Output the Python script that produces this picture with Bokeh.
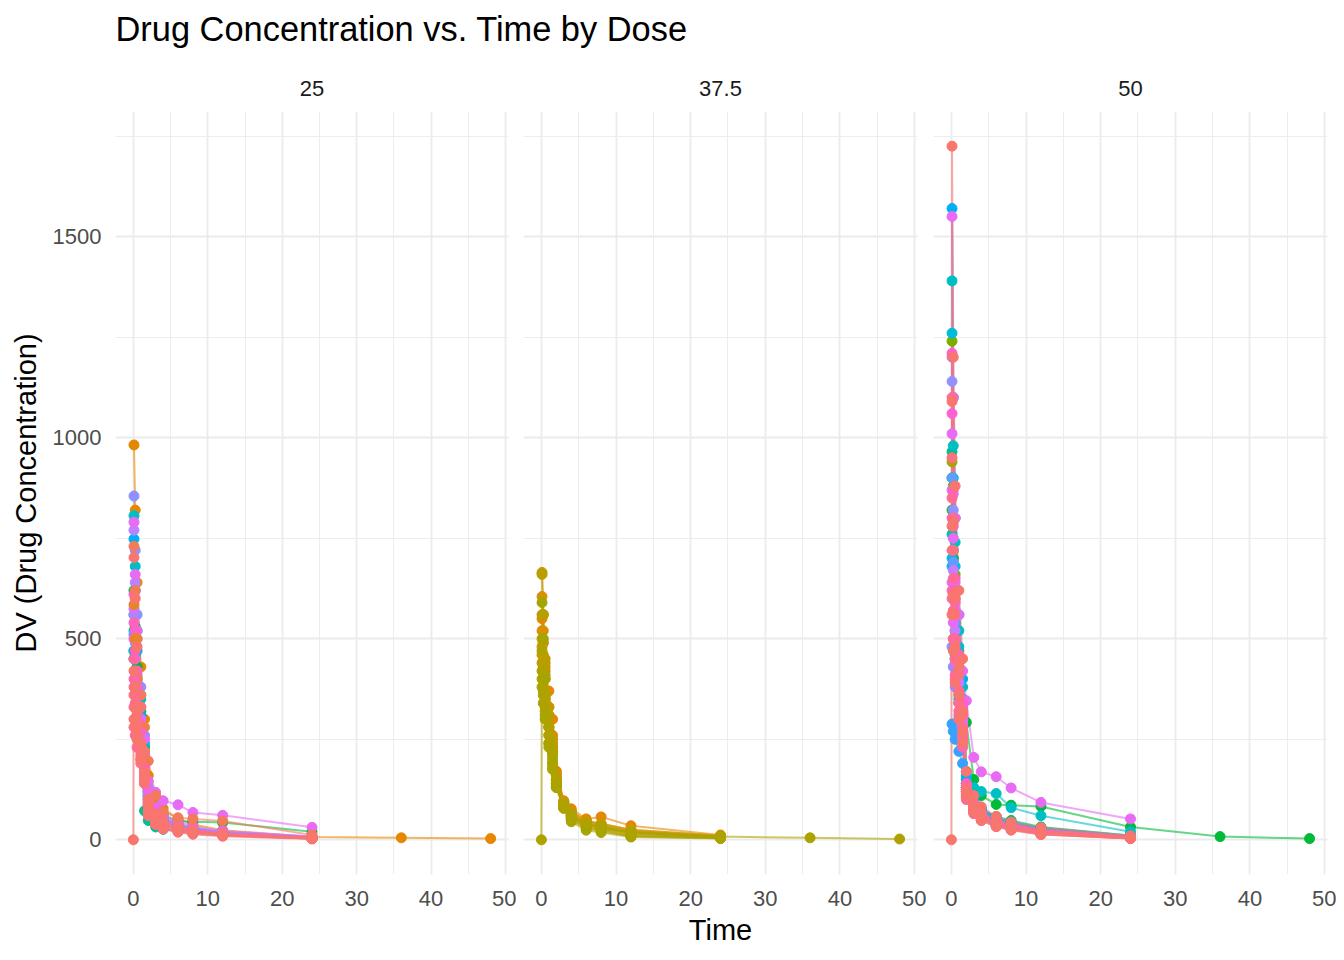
from bokeh.plotting import figure
from bokeh.layouts import column, row
from bokeh.models import ColumnDataSource, SingleIntervalTicker, Range1d, Label
from bokeh.embed import file_html
from bokeh.resources import INLINE

FONT = "Liberation Sans"
N = None

# sampling times (h); None in a profile = no sample at that time
TIMES = [0, 0.083, 0.25, 0.5, 1, 1.5, 2, 3, 4, 6, 8, 12, 24, 36, 48]

DOSE_LABELS = ["25", "37.5", "50"]

COLORS_25 = ["#E58700", "#39B600", "#00BA38", "#00BD5C", "#00C08B", "#00C1A3",
             "#00BFC4", "#00B8E7", "#00B0F6", "#619CFF", "#8F91FF", "#A58AFF",
             "#B983FF", "#E76BF3", "#D575FE", "#F066EA", "#FD61D1", "#F37B59",
             "#E88526", "#FF62BC", "#FF65AE", "#FF67A4", "#FF6C91", "#FF6C91",
             "#FC717F", "#FB727C", "#F8766D", "#F8766D", "#F8766D"]
CONC_25 = [
    [N, 982, 820, 640, 430, 300, 160, 105, 78, 52, 38, 24, 7, 5, 3],
    [N, 470, 420, 360, 290, 210, 110, 70, 50, 36, 28, 18, 6, N, N],
    [N, 620, 530, 430, 320, 230, 120, 80, 62, 47, 45, 43, 20, N, N],
    [N, 450, 400, 340, 260, 190, 88, 55, 40, 30, 22, 14, 4, N, N],
    [N, 560, 470, 360, 230, 72, 48, 32, 26, 21, 17, 12, 4, N, N],
    [N, 520, 460, 380, 280, 200, 95, 60, 44, 31, 24, 15, 5, N, N],
    [N, 806, 680, 520, 350, 240, 110, 70, 50, 34, 27, 18, 5, N, N],
    [N, 470, 420, 360, 280, 200, 105, 70, 52, 38, 28, 18, 6, N, N],
    [N, 748, 620, 470, 310, 210, 100, 62, 45, 31, 24, 16, 5, N, N],
    [N, 510, 450, 370, 270, 190, 95, 65, 48, 36, 25, 18, 6, N, N],
    [N, 855, 720, 560, 380, 260, 130, 80, 58, 40, 30, 20, 8, N, N],
    [N, 560, 490, 400, 300, 210, 115, 78, 56, 40, 30, 19, 6, N, N],
    [N, 770, 640, 500, 330, 220, 105, 68, 48, 34, 25, 17, 6, N, N],
    [N, 790, 660, 520, 360, 250, 146, 118, 97, 87, 68, 61, 31, N, N],
    [N, 575, 500, 410, 300, 200, 100, 66, 46, 33, 24, 15, 5, N, N],
    [N, 500, 450, 380, 290, 210, 120, 80, 60, 45, 34, 22, 8, N, N],
    [N, 610, 520, 420, 290, 190, 90, 55, 38, 27, 20, 13, 4, N, N],
    [N, 730, 620, 500, 360, 280, 196, 110, 70, 55, 52, 47, 12, N, N],
    [N, 585, 500, 400, 280, 190, 85, 52, 36, 26, 20, 14, 5, N, N],
    [N, 540, 470, 380, 270, 180, 80, 50, 35, 25, 18, 11, 3, N, N],
    [N, 400, 360, 310, 240, 170, 100, 66, 48, 34, 26, 16, 5, N, N],
    [N, 450, 400, 330, 240, 160, 75, 48, 34, 24, 18, 12, 3, N, N],
    [N, 380, 340, 290, 210, 150, 65, 40, 28, 20, 15, 10, 3, N, N],
    [N, 280, 260, 230, 190, 140, 85, 55, 40, 28, 21, 12, 3, N, N],
    [N, 330, 300, 260, 200, 140, 60, 38, 27, 19, 14, 9, 2, N, N],
    [N, 360, 330, 280, 220, 160, 92, 60, 44, 31, 23, 14, 4, N, N],
    [N, 300, 280, 250, 200, 150, 90, 58, 42, 30, 22, 13, 4, N, N],
    [N, 420, 380, 320, 240, 170, 70, 44, 31, 22, 16, 11, 3, N, N],
    [0, 702, 600, 480, 330, 220, 100, 62, 43, 30, 22, 14, 4, N, N],
]

COLORS_37_5 = ["#DE8C00", "#D89000", "#E58700", "#D39200", "#CF9400", "#C59900",
               "#C49A00", "#C09B00", "#BB9D00", "#B79F00", "#B4A000", "#ABA300",
               "#A9A400", "#A3A500", "#AEA200"]
CONC_37_5 = [
    [N, 520, 460, 400, 330, 260, 165, 95, 70, 48, 40, 25, 10, N, N],
    [N, 605, 520, 420, 300, 220, 150, 88, 60, 38, 30, 15, 6, N, N],
    [N, 550, 490, 430, 370, 300, 171, 97, 77, 52, 57, 35, 12, N, N],
    [N, 480, 430, 370, 300, 240, 160, 92, 68, 45, 38, 22, 9, N, N],
    [N, 460, 400, 330, 240, 180, 135, 80, 50, 28, 22, 8, 4, N, N],
    [N, 440, 400, 350, 280, 220, 150, 90, 62, 42, 34, 20, 8, N, N],
    [N, 665, 560, 450, 330, 250, 160, 95, 70, 45, 40, 25, 10, N, N],
    [N, 560, 490, 410, 310, 230, 145, 85, 60, 40, 32, 18, 7, N, N],
    [N, 500, 440, 360, 260, 190, 135, 80, 52, 30, 24, 10, 4, N, N],
    [N, 660, 560, 440, 310, 230, 150, 90, 62, 40, 30, 18, 7, N, N],
    [N, 400, 360, 320, 260, 200, 140, 85, 58, 38, 30, 18, 7, N, N],
    [N, 380, 340, 300, 240, 190, 130, 80, 55, 36, 28, 16, 6, N, N],
    [N, 420, 370, 310, 230, 175, 130, 78, 45, 24, 18, 7, 3, N, N],
    [N, 590, 500, 400, 280, 210, 140, 84, 55, 32, 26, 12, 5, N, N],
    [0, 470, 420, 360, 280, 215, 145, 88, 60, 40, 35, 20, 8, 5, 2],
]

COLORS_50 = ["#7CAE00", "#A3A500", "#00BA38", "#00BA38", "#00C08B", "#00C1A3",
             "#00BFC4", "#00BCD8", "#00B8E7", "#00B0F6", "#00B0F6", "#35A2FF",
             "#619CFF", "#8F91FF", "#9590FF", "#C77CFF", "#DB72FB", "#E76BF3",
             "#E76BF3", "#E76BF3", "#FD61D1", "#FF61C3", "#FF61C3", "#FF64B0",
             "#FF6A98", "#FF6A98", "#FF6C91", "#FE6E8A", "#FC717F", "#F8766D",
             "#F8766D", "#F8766D", "#F8766D"]
CONC_50 = [
    [N, 1240, 880, 660, 470, 350, 140, 95, 70, 50, 38, 25, 8, N, N],
    [N, 940, 700, 540, 400, 300, 120, 80, 58, 40, 30, 18, 5, N, N],
    [N, 900, 700, 560, 420, 330, 292, 150, 110, 88, 86, 83, 32, 8, 3],
    [N, 820, 640, 520, 400, 310, 150, 100, 75, 58, 48, 32, 11, N, N],
    [N, 965, 720, 540, 380, 280, 110, 72, 52, 36, 27, 15, 4, N, N],
    [N, 760, 600, 480, 360, 280, 140, 95, 70, 52, 42, 28, 9, N, N],
    [N, 1390, 980, 740, 520, 380, 170, 130, 120, 115, 80, 60, 20, N, N],
    [N, 1260, 900, 680, 480, 350, 150, 100, 75, 55, 45, 30, 10, N, N],
    [N, 700, 560, 450, 340, 260, 130, 88, 66, 48, 38, 24, 8, N, N],
    [N, 1570, 1100, 800, 560, 400, 160, 105, 78, 55, 40, 28, 9, N, N],
    [N, 680, 560, 460, 350, 270, 140, 95, 72, 52, 42, 27, 9, N, N],
    [N, 288, 270, 250, 220, 190, 110, 75, 56, 40, 32, 20, 6, N, N],
    [N, 900, 690, 540, 400, 300, 135, 90, 68, 50, 40, 26, 8, N, N],
    [N, 480, 430, 380, 310, 250, 125, 85, 64, 46, 36, 22, 6, N, N],
    [N, 1140, 820, 620, 440, 330, 130, 85, 62, 44, 34, 20, 6, N, N],
    [N, 870, 670, 520, 390, 290, 130, 88, 66, 48, 38, 24, 8, N, N],
    [N, 1200, 860, 640, 450, 330, 125, 82, 60, 42, 33, 20, 6, N, N],
    [N, 1550, 1100, 800, 560, 420, 346, 205, 169, 157, 129, 93, 52, N, N],
    [N, 1010, 750, 570, 410, 300, 115, 75, 55, 38, 28, 16, 4, N, N],
    [N, 640, 540, 440, 340, 260, 130, 88, 66, 48, 38, 24, 8, N, N],
    [N, 1060, 780, 590, 420, 310, 120, 78, 56, 38, 28, 15, 4, N, N],
    [N, 1210, 870, 650, 460, 340, 140, 92, 68, 48, 37, 23, 7, N, N],
    [N, 800, 620, 490, 370, 280, 135, 90, 66, 48, 38, 24, 7, N, N],
    [N, 620, 500, 400, 300, 230, 100, 65, 48, 33, 25, 14, 3, N, N],
    [N, 850, 650, 500, 370, 280, 115, 75, 54, 38, 29, 17, 4, N, N],
    [N, 600, 500, 410, 320, 250, 125, 84, 62, 45, 36, 22, 7, N, N],
    [N, 1100, 800, 600, 430, 320, 125, 82, 60, 42, 32, 18, 5, N, N],
    [N, 720, 570, 450, 340, 260, 105, 68, 50, 34, 26, 14, 3, N, N],
    [N, 950, 720, 560, 410, 310, 130, 85, 62, 44, 34, 21, 6, N, N],
    [N, 1090, 790, 600, 430, 320, 120, 78, 57, 40, 30, 17, 4, N, N],
    [N, 560, 470, 390, 300, 240, 120, 80, 60, 44, 35, 22, 6, N, N],
    [N, 780, 610, 480, 360, 270, 105, 68, 48, 33, 24, 13, 3, N, N],
    [0, 1725, 1200, 880, 620, 450, 170, 110, 82, 58, 44, 30, 10, N, N],
]

PANELS = [(DOSE_LABELS[0], COLORS_25, CONC_25),
          (DOSE_LABELS[1], COLORS_37_5, CONC_37_5),
          (DOSE_LABELS[2], COLORS_50, CONC_50)]


def profile(conc):
    xs = [t for t, c in zip(TIMES, conc) if c is not None]
    ys = [c for c in conc if c is not None]
    return xs, ys


# ggplot-like ranges: data extent expanded by 5 %
all_x, all_y = [], []
for _, _, concs in PANELS:
    for c in concs:
        xs, ys = profile(c)
        all_x += xs
        all_y += ys
xlo, xhi = min(all_x), max(all_x)
ylo, yhi = min(all_y), max(all_y)
xpad = 0.05 * (xhi - xlo)
ypad = 0.05 * (yhi - ylo)
Y_RANGE = Range1d(ylo - ypad, yhi + ypad)

GRID = "#EBEBEB"
TICK_COLOR = "#4D4D4D"

FRAME_H = 763
FRAME_W = [393, 394, 394]
BORDER_L = [115, 7, 7]
BORDER_R = [8, 9, 9]

figs = []
for i, (label, colors, concs) in enumerate(PANELS):
    p = figure(frame_width=FRAME_W[i], frame_height=FRAME_H,
               x_range=Range1d(xlo - xpad, xhi + xpad), y_range=Y_RANGE,
               toolbar_location=None, output_backend="svg",
               y_axis_location="left" if i == 0 else None,
               min_border_left=BORDER_L[i], min_border_right=BORDER_R[i],
               min_border_top=53, min_border_bottom=76,
               outline_line_color=None, background_fill_color="white",
               border_fill_color="white")
    p.title.text = label
    p.title.align = "center"
    p.title.text_font = FONT
    p.title.text_font_size = "22px"
    p.title.text_font_style = "normal"
    p.title.text_color = "#1A1A1A"
    p.title.standoff = 32

    xt = SingleIntervalTicker(interval=10, num_minor_ticks=2)
    yt = SingleIntervalTicker(interval=500, num_minor_ticks=2)
    p.xaxis.ticker = xt
    p.xgrid.ticker = xt
    p.ygrid.ticker = yt
    for g in (p.xgrid, p.ygrid):
        g.grid_line_color = GRID
        g.grid_line_width = 1.8
        g.minor_grid_line_color = GRID
        g.minor_grid_line_width = 0.9

    axes = list(p.xaxis) + (list(p.yaxis) if i == 0 else [])
    for ax in axes:
        ax.axis_line_color = None
        ax.major_tick_line_color = None
        ax.minor_tick_line_color = None
        ax.major_tick_out = 0
        ax.major_tick_in = 0
        ax.minor_tick_out = 0
        ax.minor_tick_in = 0
        ax.major_label_text_font = FONT
        ax.major_label_text_font_size = "22px"
        ax.major_label_text_color = TICK_COLOR
        ax.axis_label_text_font = FONT
        ax.axis_label_text_font_size = "29px"
        ax.axis_label_text_font_style = "normal"
        ax.axis_label_text_color = "black"
    p.xaxis.major_label_standoff = 16
    if i == 0:
        p.yaxis.ticker = yt
        p.yaxis.major_label_standoff = 14
        p.yaxis.axis_label = "DV (Drug Concentration)"
        p.yaxis.axis_label_standoff = 8
    if i == 1:
        p.xaxis.axis_label = "Time"
        p.xaxis.axis_label_standoff = 5

    line_xs, line_ys, pt_x, pt_y, pt_c = [], [], [], [], []
    for col, c in zip(colors, concs):
        xs, ys = profile(c)
        line_xs.append(xs)
        line_ys.append(ys)
        pt_x += xs
        pt_y += ys
        pt_c += [col] * len(xs)
    lsrc = ColumnDataSource(dict(xs=line_xs, ys=line_ys, color=list(colors)))
    psrc = ColumnDataSource(dict(x=pt_x, y=pt_y, color=pt_c))
    p.multi_line(xs="xs", ys="ys", line_color="color", line_alpha=0.6,
                 line_width=2, source=lsrc)
    p.scatter(x="x", y="y", color="color", size=10, source=psrc)
    figs.append(p)

# overall title band
tf = figure(width=1336, height=58, x_range=Range1d(0, 1), y_range=Range1d(0, 1),
            x_axis_location=None, y_axis_location=None, min_border=0,
            toolbar_location=None, output_backend="svg", outline_line_color=None)
tf.grid.visible = False
tf.add_layout(Label(x=115, y=30, x_units="screen", y_units="screen",
                    text="Drug Concentration vs. Time by Dose",
                    text_font=FONT, text_font_size="34.4px", text_color="black",
                    text_baseline="alphabetic"))

layout = column(tf, row(*figs))
open("out.html", "w").write(file_html(layout, INLINE, "Drug Concentration vs. Time by Dose"))
